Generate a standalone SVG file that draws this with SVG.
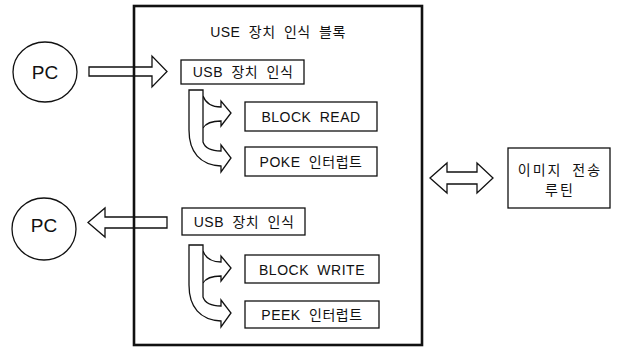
<svg xmlns="http://www.w3.org/2000/svg" width="617" height="348" viewBox="0 0 617 348">
<style>
.box{fill:#fff;stroke:#111;stroke-width:1.3}
.arr{fill:#fff;stroke:#111;stroke-width:1.3;stroke-linejoin:miter}
.main{fill:none;stroke:#111;stroke-width:2.6}
.pc{fill:#fff;stroke:#111;stroke-width:1.3}
text{font-family:"Liberation Sans","Noto Sans CJK KR",sans-serif;font-size:14px;letter-spacing:0.5px;word-spacing:4px;fill:#111;text-anchor:middle}
.big{font-size:19px;letter-spacing:0}
.wide{letter-spacing:2px}
</style>
<defs>
<g id="curve">
<path class="arr" d="M203,6 C206,14 212,17 221,17 L221,11 L231,23 L221,36 L221,31 C212,31 206,33 203,38"/>
<path class="arr" d="M189,0 L203,0 L203,52 C205,58 212,61 221,61 L221,55 L231,68 L221,82 L221,76 C200,75 189,62 189,40 Z"/>
</g>
</defs>
<g id="connectors">
<path class="arr" d="M89,67 L152,67 L152,56 L167,71.5 L152,87 L152,76 L89,76 Z"/>
<path class="arr" d="M167,217 L105,217 L105,208 L88,222.5 L105,237 L105,228 L167,228 Z"/>
<path class="arr" d="M430,178 L447,163 L447,172 L477,172 L477,163 L493,178 L477,193 L477,184 L447,184 L447,193 Z"/>
<use href="#curve" transform="translate(0,90)"/>
<use href="#curve" transform="translate(0,245)"/>
</g>
<g id="main-block">
<rect class="main" x="134" y="6" width="288" height="339"/>
<text x="278" y="37">USE 장치 인식 블록</text>
</g>
<g id="pc-top">
<ellipse class="pc" cx="45" cy="72" rx="32" ry="30"/>
<text class="big" x="45" y="79">PC</text>
</g>
<g id="pc-bottom">
<ellipse class="pc" cx="44" cy="229" rx="32" ry="31"/>
<text class="big" x="44" y="232">PC</text>
</g>
<g id="usb-top">
<rect class="box" x="181" y="60" width="123" height="24"/>
<text x="243" y="77">USB 장치 인식</text>
</g>
<g id="block-read">
<rect class="box" x="245" y="102" width="132" height="29"/>
<text x="311" y="122">BLOCK READ</text>
</g>
<g id="poke">
<rect class="box" x="245" y="147" width="132" height="29"/>
<text x="311" y="167">POKE 인터럽트</text>
</g>
<g id="usb-bottom">
<rect class="box" x="182" y="208" width="123" height="27"/>
<text x="244" y="227">USB 장치 인식</text>
</g>
<g id="block-write">
<rect class="box" x="245" y="255" width="134" height="28"/>
<text x="312" y="275">BLOCK WRITE</text>
</g>
<g id="peek">
<rect class="box" x="245" y="301" width="134" height="27"/>
<text x="312" y="320">PEEK 인터럽트</text>
</g>
<g id="image-routine">
<rect class="box" x="508" y="148" width="102" height="60"/>
<text class="wide" x="560" y="175">이미지 전송</text>
<text class="wide" x="560" y="195">루틴</text>
</g>
</svg>
